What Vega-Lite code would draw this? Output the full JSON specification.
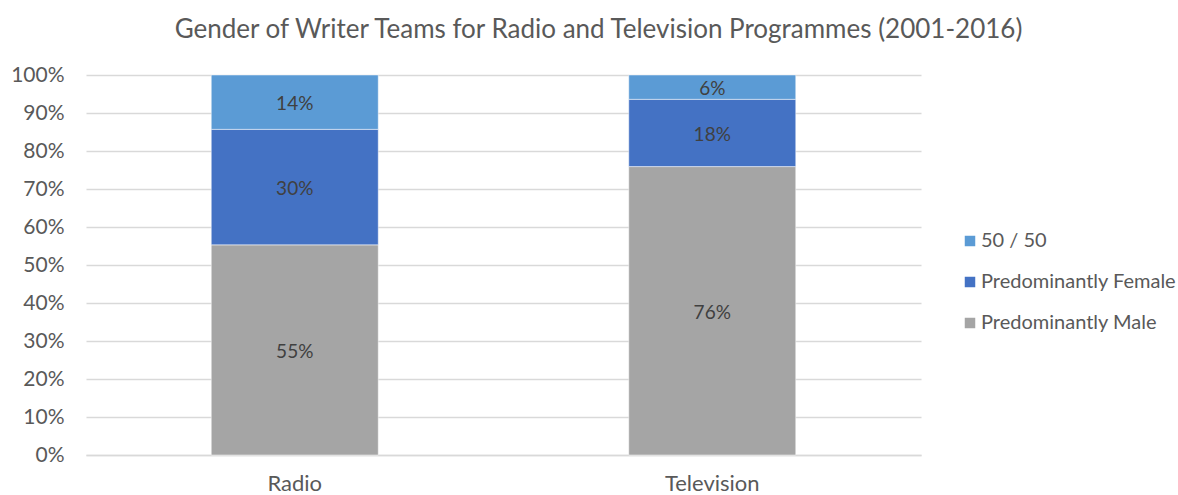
{
  "$schema": "https://vega.github.io/schema/vega-lite/v6.json",
  "autosize": "none",
  "width": 835,
  "height": 380,
  "padding": {"left": 86, "top": 75, "right": 257, "bottom": 40},
  "background": "white",
  "title": {
    "text": "Gender of Writer Teams for Radio and Television Programmes (2001-2016)",
    "font": "Lato",
    "fontSize": 26,
    "fontWeight": "normal",
    "color": "#595959",
    "anchor": "middle",
    "dx": 95,
    "offset": 0,
    "baseline": "alphabetic"
  },
  "config": {
    "view": {"stroke": null},
    "font": "Lato"
  },
  "data": {
    "values": [
      {"medium": "Radio", "group": "Predominantly Male", "share": 0.553},
      {"medium": "Radio", "group": "Predominantly Female", "share": 0.304},
      {"medium": "Radio", "group": "50 / 50", "share": 0.143},
      {"medium": "Television", "group": "Predominantly Male", "share": 0.759},
      {"medium": "Television", "group": "Predominantly Female", "share": 0.177},
      {"medium": "Television", "group": "50 / 50", "share": 0.064}
    ]
  },
  "encoding": {
    "x": {
      "field": "medium",
      "type": "nominal",
      "scale": {"paddingInner": 0.6, "paddingOuter": 0.3},
      "axis": {
        "title": null,
        "labelAngle": 0,
        "labelFont": "Lato",
        "labelFontSize": 22,
        "labelColor": "#595959",
        "labelPadding": 18,
        "ticks": false,
        "domainColor": "#D9D9D9",
        "domainWidth": 1.5
      }
    }
  },
  "layer": [
    {
      "mark": {"type": "bar", "stroke": "white", "strokeWidth": 0.8, "strokeOpacity": 0.6},
      "encoding": {
        "y": {
          "field": "share",
          "type": "quantitative",
          "stack": "zero",
          "scale": {"domain": [0, 1], "nice": false},
          "axis": {
            "title": null,
            "format": ".0%",
            "values": [0, 0.1, 0.2, 0.3, 0.4, 0.5, 0.6, 0.7, 0.8, 0.9, 1],
            "labelOverlap": false,
            "labelFont": "Lato",
            "labelFontSize": 21,
            "labelColor": "#595959",
            "labelPadding": 22,
            "ticks": false,
            "domain": false,
            "gridColor": "#D9D9D9",
            "gridWidth": 1.5
          }
        },
        "color": {
          "field": "group",
          "type": "nominal",
          "scale": {
            "domain": ["50 / 50", "Predominantly Female", "Predominantly Male"],
            "range": ["#5B9BD5", "#4472C4", "#A5A5A5"]
          },
          "legend": {
            "title": null,
            "orient": "none",
            "legendX": 874,
            "legendY": 156,
            "padding": 0,
            "symbolType": "square",
            "symbolSize": 110,
            "symbolStrokeWidth": 0,
            "labelFont": "Lato",
            "labelFontSize": 20,
            "labelColor": "#595959",
            "labelOffset": 1,
            "labelLimit": 400,
            "rowPadding": 21
          }
        },
        "order": {"field": "group", "sort": "descending"}
      }
    },
    {
      "transform": [
        {"stack": "share", "groupby": ["medium"], "as": ["lo", "hi"], "sort": [{"field": "group", "order": "descending"}]},
        {"calculate": "(datum.lo + datum.hi) / 2", "as": "mid"}
      ],
      "mark": {"type": "text", "font": "Lato", "fontSize": 19, "color": "#404040", "baseline": "middle", "dy": 2},
      "encoding": {
        "y": {
          "field": "mid",
          "type": "quantitative",
          "scale": {"domain": [0, 1], "nice": false},
          "axis": {
            "title": null,
            "format": ".0%",
            "values": [0, 0.1, 0.2, 0.3, 0.4, 0.5, 0.6, 0.7, 0.8, 0.9, 1],
            "labelOverlap": false,
            "labelFont": "Lato",
            "labelFontSize": 21,
            "labelColor": "#595959",
            "labelPadding": 22,
            "ticks": false,
            "domain": false,
            "gridColor": "#D9D9D9",
            "gridWidth": 1.5
          }
        },
        "text": {"field": "share", "type": "quantitative", "format": ".0%"}
      }
    }
  ]
}
